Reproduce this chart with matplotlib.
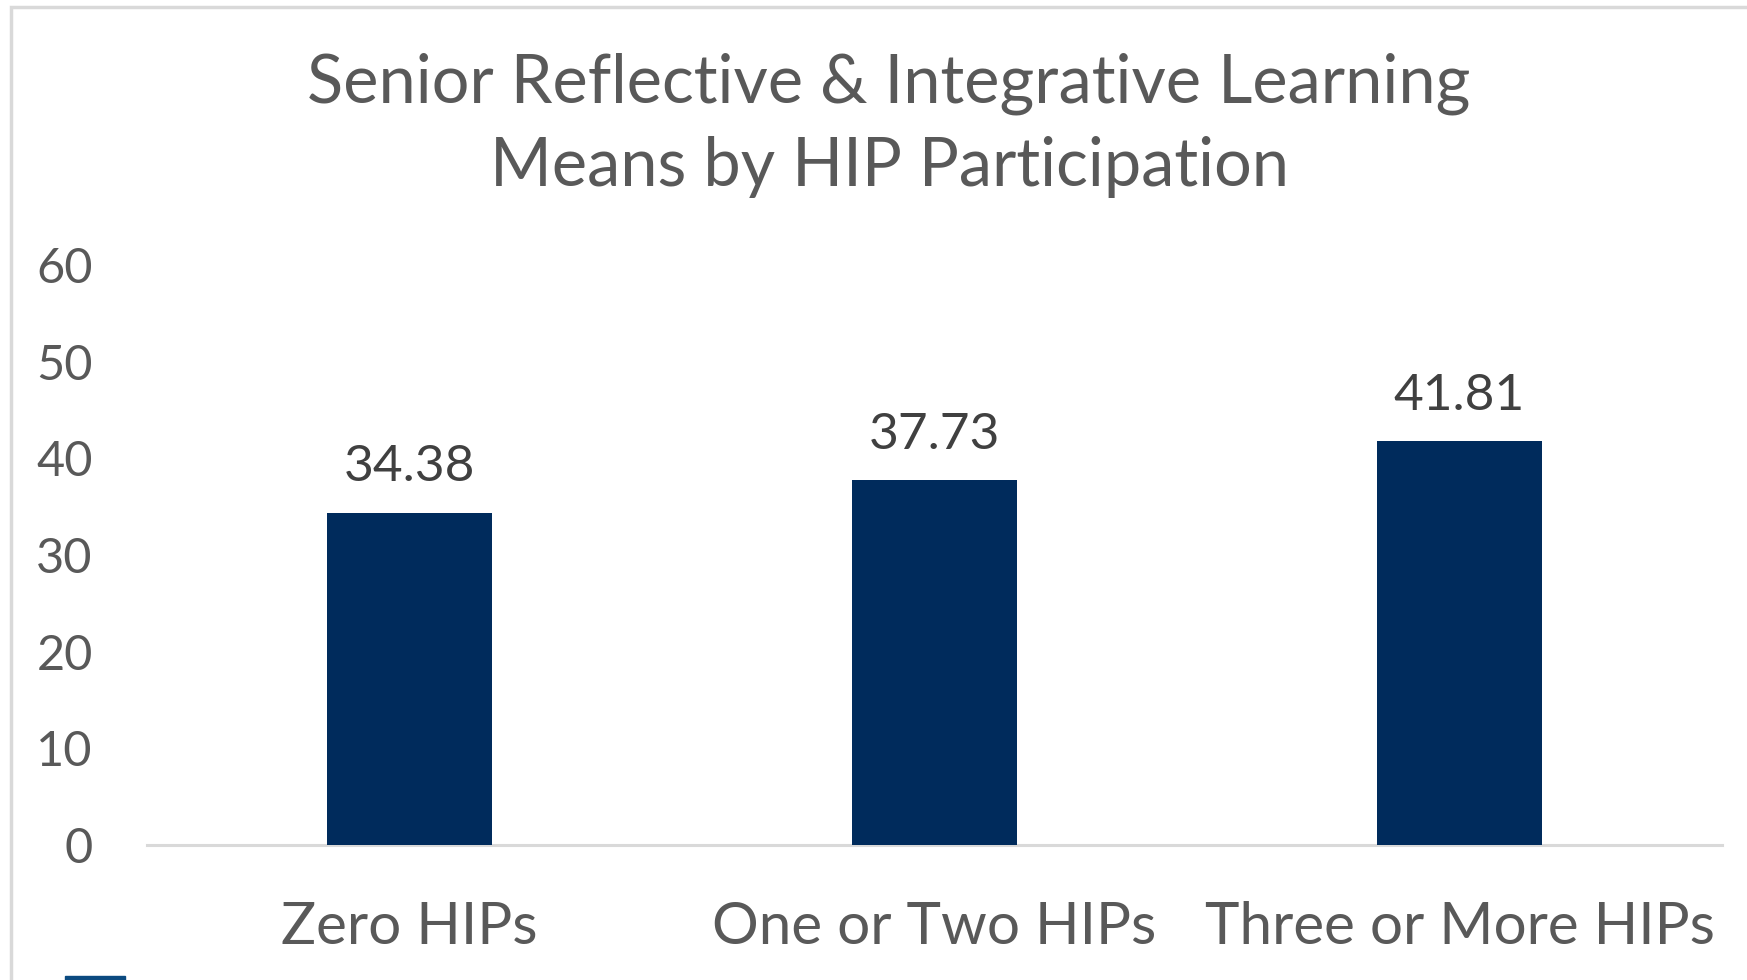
import matplotlib.pyplot as plt
from matplotlib.patches import Rectangle

# chart data
categories = ["Zero HIPs", "One or Two HIPs", "Three or More HIPs"]
means = [34.38, 37.73, 41.81]
yticks = [0, 10, 20, 30, 40, 50, 60]

bar_color = "#002B5C"
text_color = "#595959"
line_color = "#D9D9D9"

plt.rcParams["font.family"] = ["Lato", "DejaVu Sans"]

fig = plt.figure(figsize=(17.47, 9.8), dpi=100)
ax = fig.add_axes([147 / 1747, 135 / 980, 1575 / 1747, 580 / 980])

x = range(len(categories))
bars = ax.bar(x, means, width=0.314, color=bar_color, zorder=2)

# value labels above bars
for xi, v in zip(x, means):
    ax.text(xi, v + 2.3, f"{v:.2f}", ha="center", va="bottom",
            fontsize=37, color="#404040")

ax.set_xlim(-0.5, 2.5)
ax.set_ylim(0, 60)
ax.set_yticks(yticks)
ax.set_yticklabels([str(t) for t in yticks], fontsize=35, color=text_color)
ax.set_xticks(list(x))
ax.set_xticklabels(categories, fontsize=42, color=text_color)
ax.tick_params(axis="both", length=0)
ax.tick_params(axis="y", pad=39)
ax.tick_params(axis="x", pad=40)

for side in ["left", "right", "top"]:
    ax.spines[side].set_visible(False)
ax.spines["bottom"].set_color(line_color)
ax.spines["bottom"].set_linewidth(2.2)
ax.spines["bottom"].set_zorder(1)

# title
fig.text(889 / 1747, 1 - 84 / 980, "Senior Reflective & Integrative Learning",
         ha="center", va="center", fontsize=48, color=text_color)
fig.text(889 / 1747, 1 - 167 / 980, "Means by HIP Participation",
         ha="center", va="center", fontsize=48, color=text_color)

# chart area border (cropped at right and bottom)
fig.patches.append(Rectangle((11 / 1747, -0.1), 1.2, 1 - 7 / 980 + 0.1,
                             transform=fig.transFigure, fill=False,
                             edgecolor=line_color, linewidth=2.5))
# cut-off legend key at bottom
fig.patches.append(Rectangle((65 / 1747, 0), 60 / 1747, 4 / 980,
                             transform=fig.transFigure, color="#0B4A80"))

fig.savefig("out.png", dpi=100)
